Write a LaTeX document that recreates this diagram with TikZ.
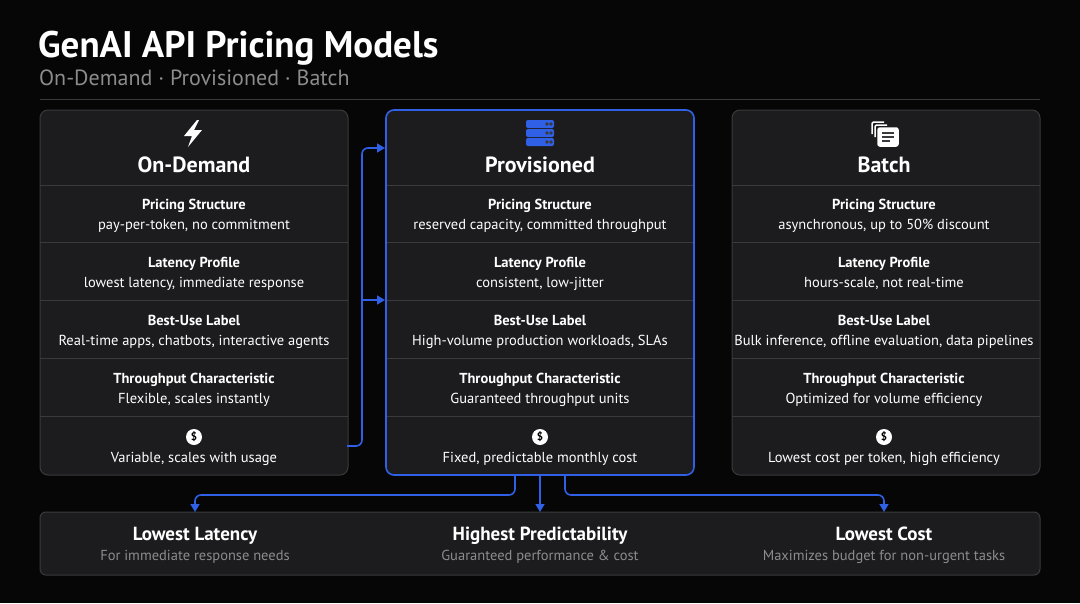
\documentclass[tikz,border=0pt]{standalone}
\usepackage{fontspec}
\setmainfont{PT Sans}
\usetikzlibrary{arrows.meta}
\definecolor{bg}{HTML}{060606}
\definecolor{card}{HTML}{1C1C1E}
\definecolor{bord}{HTML}{3A3A3C}
\definecolor{blu}{HTML}{2F60E6}
\definecolor{gry}{HTML}{8C8C8C}
\begin{document}
\begin{tikzpicture}[x=1pt,y=-1pt,
  card/.style={draw=bord,fill=card,rounded corners=8pt,line width=1pt},
  sep/.style={draw=bord,line width=1pt},
  rt/.style={text=white,anchor=base,inner sep=0,font=\fontsize{14.5}{16}\selectfont\bfseries},
  rs/.style={text=white,anchor=base,inner sep=0,font=\fontsize{14.5}{16}\selectfont},
  ht/.style={text=white,anchor=base,inner sep=0,font=\fontsize{22}{24}\selectfont\bfseries},
  conn/.style={draw=blu,line width=1.6pt,rounded corners=6pt},
  arr/.style={conn,-{Triangle[length=8pt,width=9pt]}},
  dol/.style={circle,fill=white,inner sep=0pt,minimum size=16pt,text=black,font=\fontsize{11}{11}\selectfont\bfseries}]
\fill[bg] (0,0) rectangle (1080,603);
\useasboundingbox (0,0) rectangle (1080,603);
\node[anchor=base west,text=white,font=\fontsize{37}{40}\selectfont\bfseries,inner sep=0] (title) at (38,57) {GenAI API Pricing Models};
\node[anchor=base west,text=gry,font=\fontsize{22}{24}\selectfont,inner sep=0] (sub) at (39,85) {On-Demand · Provisioned · Batch};
\draw[bord] (40,99) -- (1040,99);
% cards
\foreach \x/\n in {40/L,386/M,732/R}{
  \path[card] (\x,110) rectangle ++(308,365);
  \foreach \y in {185,242,300,358,416} \draw[sep] (\x,\y) -- ++(308,0);
}
\draw[blu,line width=1.6pt,rounded corners=8pt] (386,110) rectangle ++(308,365);
\node (cL) at (194,300) {}; \node (cM) at (540,300) {}; \node (cR) at (886,300) {};
% icons
\fill[white] (197,120) -- (184,136) -- (192,136) -- (188,147) -- (202,130) -- (194,130) -- (199,120) -- cycle;
\foreach \k in {0,1,2}{
  \fill[blu,rounded corners=2pt] (526,120+\k*9) rectangle ++(28,8);
  \fill[card] (547,124+\k*9) circle (1.1pt) (551,124+\k*9) circle (1.1pt);
}
\begin{scope}[white,line width=1.5pt]
\draw[rounded corners=1.5pt] (872,134) -- (872,122) -- (884,122);
\draw[rounded corners=1.5pt] (875,137) -- (875,125) -- (887,125);
\filldraw[fill=white,rounded corners=2pt] (878,128) rectangle (898,146);
\draw[card,line width=1.3pt] (882,133)--(894,133) (882,137)--(894,137) (882,141)--(890,141);
\end{scope}
\node[ht] at (194,172) {On-Demand};
\node[ht] at (540,172) {Provisioned};
\node[ht] at (884,172) {Batch};
% rows
\newcommand\rowz[4]{\node[rt] at (#1,#2-4) {#3}; \node[rs] at (#1,#2+16) {#4};}
\rowz{194}{213}{Pricing Structure}{pay-per-token, no commitment}
\rowz{194}{271}{Latency Profile}{lowest latency, immediate response}
\rowz{194}{329}{Best-Use Label}{Real-time apps, chatbots, interactive agents}
\rowz{194}{387}{Throughput Characteristic}{Flexible, scales instantly}
\rowz{540}{213}{Pricing Structure}{reserved capacity, committed throughput}
\rowz{540}{271}{Latency Profile}{consistent, low-jitter}
\rowz{540}{329}{Best-Use Label}{High-volume production workloads, SLAs}
\rowz{540}{387}{Throughput Characteristic}{Guaranteed throughput units}
\rowz{884}{213}{Pricing Structure}{asynchronous, up to 50\% discount}
\rowz{884}{271}{Latency Profile}{hours-scale, not real-time}
\rowz{884}{329}{Best-Use Label}{Bulk inference, offline evaluation, data pipelines}
\rowz{884}{387}{Throughput Characteristic}{Optimized for volume efficiency}
\foreach \x/\t in {194/{Variable, scales with usage},540/{Fixed, predictable monthly cost},884/{Lowest cost per token, high efficiency}}{
  \node[dol] at (\x,437) {\$};
  \node[rs] at (\x,462) {\t};
}
% bottom
\path[card,rounded corners=6pt] (40,512) rectangle (1040,575);
\node (bot) at (540,543) {};
\foreach \x/\a/\b in {195/Lowest Latency/For immediate response needs,540/Highest Predictability/{Guaranteed performance \& cost},884/Lowest Cost/Maximizes budget for non-urgent tasks}{
  \node[text=white,anchor=base,inner sep=0,font=\fontsize{19}{20}\selectfont\bfseries] at (\x,540) {\a};
  \node[text=gry,anchor=base,inner sep=0,font=\fontsize{14.5}{16}\selectfont] at (\x,560) {\b};
}
% connectors
\coordinate (a1) at (347,446); \coordinate (a2) at (362,446);
\coordinate (a3) at (362,148); \coordinate (a4) at (385,148);
\coordinate (b1) at (362,300); \coordinate (b2) at (385,300);
\draw[arr] (a1) -- (a2) -- (a3) -- (a4);
\draw[arr] (b1) -- (b2);
\coordinate (m1) at (515,476); \coordinate (m2) at (515,495); \coordinate (m3) at (195,495); \coordinate (m4) at (195,512);
\draw[arr] (m1) -- (m2) -- (m3) -- (m4);
\coordinate (n1) at (540,476); \coordinate (n2) at (540,512);
\draw[arr] (n1) -- (n2);
\coordinate (p1) at (565,476); \coordinate (p2) at (565,495); \coordinate (p3) at (884,495); \coordinate (p4) at (884,512);
\draw[arr] (p1) -- (p2) -- (p3) -- (p4);
\end{tikzpicture}
\end{document}
